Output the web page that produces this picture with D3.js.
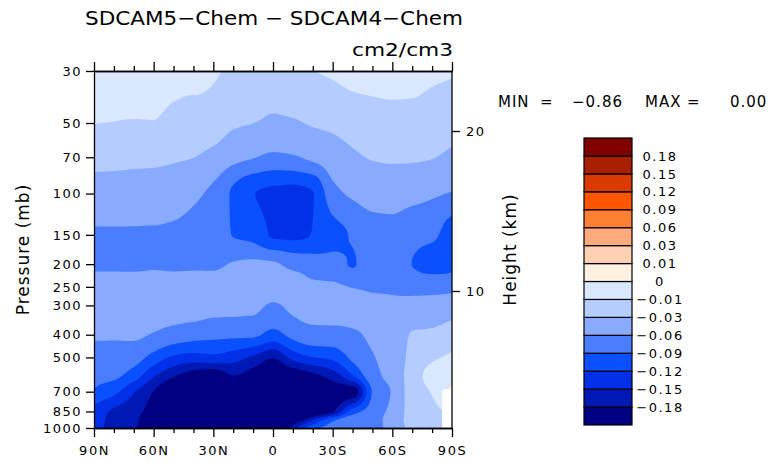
<!DOCTYPE html>
<html><head><meta charset="utf-8">
<script src="https://cdn.jsdelivr.net/npm/d3@7"></script>
<style>
body{margin:0;background:#fff}
svg{display:block}
text{font-family:"DejaVu Sans",sans-serif;fill:#000}
</style>
</head><body>
<svg id="c" width="771" height="462"></svg>
<script>
// ---------------- data ----------------
const titleText = "SDCAM5\u2212Chem  \u2212  SDCAM4\u2212Chem";
const unitsText = "cm2/cm3";
const minValue = -0.86, maxValue = 0.00;
const lats = [90,80,70,60,50,40,30,20,10,0,-10,-20,-30,-40,-50,-60,-70,-80,-90];
const pressures = [30,50,70,100,150,200,250,300,400,500,600,700,850,925,1000];
// field values per pressure level (north -> south)
const p30   = [-0.004,-0.004,-0.004,-0.004,-0.003,-0.0023,-0.0073,-0.013,-0.016,-0.022,-0.018,-0.0105,-0.007,-0.0032,-0.0022,-0.002,-0.0019,-0.0057,-0.008];
const p50   = [-0.0098,-0.0103,-0.0108,-0.0106,-0.0154,-0.0189,-0.019,-0.0269,-0.0298,-0.033,-0.032,-0.028,-0.0252,-0.0208,-0.0181,-0.0166,-0.0173,-0.0199,-0.0224];
const p70   = [-0.0236,-0.0242,-0.0249,-0.0254,-0.0275,-0.0297,-0.037,-0.051,-0.0583,-0.0663,-0.0629,-0.0534,-0.0431,-0.0341,-0.0285,-0.027,-0.0273,-0.0292,-0.0345];
const p100  = [-0.04,-0.04,-0.041,-0.0414,-0.0435,-0.0534,-0.068,-0.095,-0.119,-0.125,-0.128,-0.121,-0.07,-0.0553,-0.0486,-0.0476,-0.0508,-0.056,-0.062];
const p150  = [-0.062,-0.062,-0.062,-0.062,-0.064,-0.07,-0.08,-0.091,-0.1,-0.123,-0.125,-0.119,-0.1,-0.087,-0.07,-0.068,-0.08,-0.085,-0.105];
const p200  = [-0.063,-0.063,-0.063,-0.062,-0.063,-0.0635,-0.065,-0.058,-0.055,-0.057,-0.0667,-0.0725,-0.0778,-0.092,-0.072,-0.07,-0.0905,-0.1,-0.097];
const p250  = [-0.05,-0.05,-0.05,-0.049,-0.05,-0.05,-0.05,-0.048,-0.046,-0.05,-0.05,-0.056,-0.056,-0.061,-0.063,-0.064,-0.068,-0.069,-0.0695];
const p300  = [-0.048,-0.048,-0.047,-0.047,-0.047,-0.048,-0.052,-0.052,-0.053,-0.063,-0.054,-0.05,-0.048,-0.05,-0.055,-0.055,-0.052,-0.05,-0.0435];
const p400  = [-0.057,-0.057,-0.056,-0.0619,-0.0715,-0.0785,-0.0823,-0.0834,-0.084,-0.1,-0.081,-0.07,-0.07,-0.064,-0.056,-0.05,-0.028,-0.025,-0.0195];
const p500  = [-0.0702,-0.0716,-0.077,-0.1015,-0.1255,-0.133,-0.128,-0.1375,-0.1555,-0.178,-0.14,-0.121,-0.113,-0.083,-0.062,-0.05,-0.022,-0.012,-0.008];
const p600  = [-0.0816,-0.0845,-0.1057,-0.147,-0.177,-0.2,-0.21,-0.181,-0.2,-0.22,-0.21,-0.19,-0.167,-0.123,-0.07,-0.05,-0.018,-0.006,-0.004];
const p700  = [-0.0927,-0.111,-0.1474,-0.181,-0.22,-0.24,-0.25,-0.23,-0.25,-0.27,-0.25,-0.22,-0.2,-0.2,-0.088,-0.057,-0.018,-0.009,0.002];
const p850  = [-0.13,-0.155,-0.168,-0.2,-0.25,-0.27,-0.28,-0.28,-0.29,-0.3,-0.28,-0.22,-0.185,-0.105,-0.075,-0.052,-0.02,-0.014,-0.006];
const p925  = [-0.135,-0.16,-0.172,-0.22,-0.26,-0.28,-0.29,-0.29,-0.3,-0.29,-0.22,-0.15,-0.095,-0.07,-0.07,-0.045,-0.022,-0.016,-0.008];
const p1000 = [-0.14,-0.16,-0.175,-0.22,-0.26,-0.28,-0.29,-0.29,-0.3,-0.28,-0.16,-0.1,-0.075,-0.065,-0.072,-0.045,-0.025,-0.018,-0.01];
// contour levels and band colours (lowest band first)
const levels = [-0.18,-0.15,-0.12,-0.09,-0.06,-0.03,-0.01,0,0.01,0.03,0.06,0.09,0.12,0.15,0.18];
const bandColors = ["#000080","#0018b4","#0030e8","#0a50ff","#4b7dff","#88aaff","#b4ccff","#d9e8ff",
                    "#fff0e0","#ffd0b4","#ffaa7c","#ff8032","#ff5500","#d83a00","#a82000","#800000"];
// axis ticks
const pressureTicks = [30,50,70,100,150,200,250,300,400,500,700,850,1000];
const latMajor = [90,60,30,0,-30,-60,-90];
const latLabels = ["90N","60N","30N","0","30S","60S","90S"];
const latMinor = [80,70,50,40,20,10,-10,-20,-40,-50,-70,-80];
const heightTicks = [10,20];
// missing data (below ground) near the south pole
const groundLat = [-85,-85,-86.5,-88,-90,-90];
const groundP   = [1000,692,684,681,680,1000];

// ---------------- drawing ----------------
const svg = d3.select("#c");
svg.append("rect").attr("width",771).attr("height",462).attr("fill","#fff");

const xS = d3.scaleLinear().domain([90,-90]).range([94,452]);
const yS = d3.scaleLog().domain([30,1000]).range([71,428]);
const hS = d3.scaleLinear().domain([10,20]).range([291,131]);

const grid = [p30,p50,p70,p100,p150,p200,p250,p300,p400,p500,p600,p700,p850,p925,p1000];

// monotone cubic (Fritsch–Butland) evaluation used only for smooth contour rendering
function monoSlopes(t, f) {
  const n = t.length, d = [], m = new Array(n);
  for (let i = 0; i < n-1; i++) d.push((f[i+1]-f[i])/(t[i+1]-t[i]));
  m[0] = d[0]; m[n-1] = d[n-2];
  for (let i = 1; i < n-1; i++) {
    const h0 = t[i]-t[i-1], h1 = t[i+1]-t[i];
    if (d[i-1]*d[i] <= 0) m[i] = 0;
    else m[i] = 3*(h0+h1)/((2*h1+h0)/d[i-1] + (h1+2*h0)/d[i]);
  }
  return m;
}
function monoEval(t, f, m, v) {
  const n = t.length;
  let i = d3.bisectRight(t, v) - 1;
  i = Math.max(0, Math.min(n-2, i));
  const h = t[i+1]-t[i], s = Math.max(0, Math.min(1, (v-t[i])/h));
  const s2 = s*s, s3 = s2*s;
  return (2*s3-3*s2+1)*f[i] + (s3-2*s2+s)*h*m[i] + (-2*s3+3*s2)*f[i+1] + (s3-s2)*h*m[i+1];
}
const colPx = lats.map(l => xS(l));
const rowPx = pressures.map(p => yS(p));
const nxF = 180, nyF = 180;
const x0 = xS(90), x1 = xS(-90), y0 = yS(30), y1 = yS(1000);
const fxs = d3.range(nxF).map(i => x0 + i*(x1-x0)/(nxF-1));
const fys = d3.range(nyF).map(j => y0 + j*(y1-y0)/(nyF-1));
// interpolate along x for every level
const rowsF = grid.map(r => { const m = monoSlopes(colPx, r); return fxs.map(v => monoEval(colPx, r, m, v)); });
const fine = new Array(nxF*nyF);
for (let i = 0; i < nxF; i++) {
  const col = rowsF.map(r => r[i]);
  const m = monoSlopes(rowPx, col);
  for (let j = 0; j < nyF; j++) fine[j*nxF + i] = monoEval(rowPx, col, m, fys[j]);
}
const mapX = c => x0 + Math.max(0, Math.min(nxF-1, c-0.5))*(x1-x0)/(nxF-1);
const mapY = c => y0 + Math.max(0, Math.min(nyF-1, c-0.5))*(y1-y0)/(nyF-1);
const geo = d3.geoPath(d3.geoTransform({point(px,py){ this.stream.point(mapX(px), mapY(py)); }}));

svg.append("clipPath").attr("id","pc").append("rect")
  .attr("x",x0).attr("y",y0).attr("width",x1-x0).attr("height",y1-y0);

const thresholds = [-10, ...levels];
const cs = d3.contours().size([nxF,nyF]).thresholds(thresholds)(fine);
const gPlot = svg.append("g").attr("clip-path","url(#pc)");
gPlot.selectAll("path.c").data(cs).join("path").attr("class","c")
  .attr("d", geo).attr("fill",(d,i)=>bandColors[i]).attr("stroke","none");

const ground = groundLat.map((l,i)=>[l,groundP[i]]);
gPlot.append("path").attr("d", d3.line().x(d=>xS(d[0])).y(d=>yS(d[1]))(ground)+"Z").attr("fill","#fff");

// axes
const styleAxis = (g, fs) => {
  g.selectAll("path.domain").attr("stroke","#000").attr("stroke-width",1.3);
  g.selectAll(".tick line").attr("stroke","#000").attr("stroke-width",1.3);
  g.selectAll("text").attr("font-family","DejaVu Sans").attr("font-size",fs).attr("fill","#000").style("letter-spacing","1.5px");
};
const axL = svg.append("g").attr("transform",`translate(${x0},0)`)
  .call(d3.axisLeft(yS).tickValues(pressureTicks).tickFormat(d=>String(d)).tickSize(8).tickSizeOuter(0).tickPadding(4));
styleAxis(axL, 13);

const axB = svg.append("g").attr("transform",`translate(0,${y1})`)
  .call(d3.axisBottom(xS).tickValues(latMajor).tickFormat((d,i)=>latLabels[i]).tickSize(9).tickSizeOuter(0).tickPadding(9));
styleAxis(axB, 13);
const axBm = svg.append("g").attr("transform",`translate(0,${y1})`)
  .call(d3.axisBottom(xS).tickValues(latMinor).tickFormat("").tickSize(5).tickSizeOuter(0));
styleAxis(axBm, 13);

const axT = svg.append("g").attr("transform",`translate(0,${y0})`)
  .call(d3.axisTop(xS).tickValues(latMajor).tickFormat("").tickSize(9).tickSizeOuter(0));
styleAxis(axT, 13);
const axTm = svg.append("g").attr("transform",`translate(0,${y0})`)
  .call(d3.axisTop(xS).tickValues(latMinor).tickFormat("").tickSize(5).tickSizeOuter(0));
styleAxis(axTm, 13);

const axR = svg.append("g").attr("transform",`translate(${x1},0)`)
  .call(d3.axisRight(hS).tickValues(heightTicks).tickFormat(d=>String(d)).tickSize(8).tickSizeOuter(0).tickPadding(6));
axR.select("path.domain").attr("d",`M0,${y0}V${y1}`);
styleAxis(axR, 13);

// axis titles
svg.append("text").attr("transform",`translate(29,${(y0+y1)/2}) rotate(-90)`)
  .attr("text-anchor","middle").attr("font-size",17).style("letter-spacing","1px").text("Pressure (mb)");
svg.append("text").attr("transform",`translate(516,${(y0+y1)/2}) rotate(-90)`)
  .attr("text-anchor","middle").attr("font-size",17).style("letter-spacing","1px").text("Height (km)");

// titles
svg.append("text").attr("x",85).attr("y",25).attr("font-size",20)
  .attr("textLength",378).attr("lengthAdjust","spacingAndGlyphs").text(titleText);
svg.append("text").attr("x",352).attr("y",56).attr("font-size",18)
  .attr("textLength",101).attr("lengthAdjust","spacingAndGlyphs").text(unitsText);

// MIN / MAX
const fmt2 = d3.format(".2f");
const mm = [["MIN",498],["=",540],[fmt2(minValue),572],["MAX",645],["=",687],[fmt2(maxValue),730]];
svg.selectAll("text.mm").data(mm).join("text").attr("class","mm")
  .attr("x",d=>d[1]).attr("y",107).attr("font-size",15).style("letter-spacing","1px").text(d=>d[0]);

// colour bar
const nb = bandColors.length;
const cb = d3.scaleLinear().domain([0,nb]).range([138,425]);
const cbx = 584, cbw = 48;
svg.selectAll("rect.cb").data(bandColors).join("rect").attr("class","cb")
  .attr("x",cbx).attr("width",cbw)
  .attr("y",(d,i)=>cb(nb-1-i)).attr("height",cb(1)-cb(0))
  .attr("fill",d=>d).attr("stroke","#000").attr("stroke-width",1.2);
svg.selectAll("text.cbl").data(levels).join("text").attr("class","cbl")
  .attr("x",660).attr("y",(d,i)=>cb(nb-1-i)).attr("dy","0.36em")
  .attr("text-anchor","middle").attr("font-size",13).style("letter-spacing","1.5px")
  .text(d=> d===0 ? "0" : fmt2(d));
</script>
</body></html>
